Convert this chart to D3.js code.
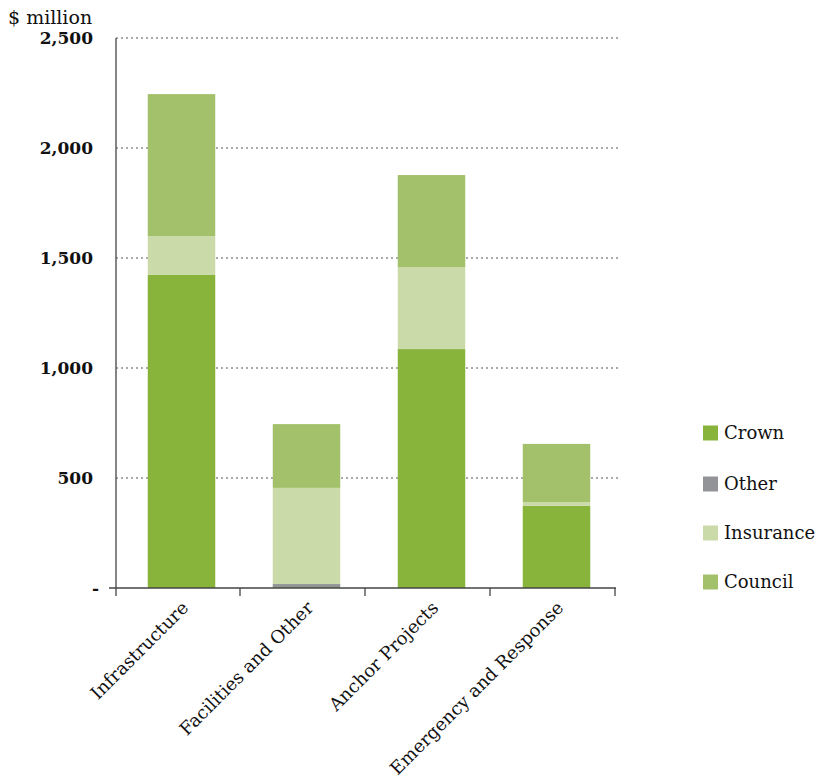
<!DOCTYPE html>
<html>
<head>
<meta charset="utf-8">
<script src="https://cdn.jsdelivr.net/npm/d3@7"></script>
<style>
  body { margin: 0; background: #fff; }
  svg text { font-family: "DejaVu Serif", "Liberation Serif", serif; fill: #111; }
</style>
</head>
<body>
<svg id="chart" width="819" height="780"></svg>
<script>
// Chart data
var categories = ["Infrastructure", "Facilities and Other", "Anchor Projects", "Emergency and Response"];
var seriesNames = ["Crown", "Other", "Insurance", "Council"];
var crown     = [1423, 4, 1086, 374];
var other     = [0, 14, 0, 0];
var insurance = [177, 437, 373, 17];
var council   = [645, 290, 418, 264];
var yTicks = [0, 500, 1000, 1500, 2000, 2500];
var colors = ["#88b43c", "#929497", "#cbdaa9", "#a3c16a"];

var svg = d3.select("#chart");

var x = d3.scaleBand()
  .domain(categories)
  .range([115, 615])
  .paddingInner(0.46)
  .paddingOuter(0.23);

var bandX = d3.scaleBand()
  .domain(categories)
  .range([115, 615]);

var y = d3.scaleLinear()
  .domain([0, 2500])
  .range([588, 38]);

var color = d3.scaleOrdinal().domain(seriesNames).range(colors);

// Table for the stack layout
var table = categories.map(function(c, i) {
  return { cat: c, Crown: crown[i], Other: other[i], Insurance: insurance[i], Council: council[i] };
});
var stacked = d3.stack().keys(seriesNames)(table);

// Gridlines
svg.append("g")
  .selectAll("line")
  .data(yTicks.filter(function(d) { return d > 0; }))
  .join("line")
    .attr("x1", 116)
    .attr("x2", 620)
    .attr("y1", function(d) { return y(d); })
    .attr("y2", function(d) { return y(d); })
    .attr("stroke", "#555")
    .attr("stroke-width", 1)
    .attr("stroke-dasharray", "2,3");

// Bars
svg.append("g")
  .selectAll("g")
  .data(stacked)
  .join("g")
    .attr("fill", function(d) { return color(d.key); })
  .selectAll("rect")
  .data(function(d) { return d; })
  .join("rect")
    .attr("x", function(d) { return x(d.data.cat) + 4; })
    .attr("width", x.bandwidth())
    .attr("y", function(d) { return y(d[1]); })
    .attr("height", function(d) { return y(d[0]) - y(d[1]); });

// Y axis
var yAxis = svg.append("g").attr("transform", "translate(116,0)");
yAxis.append("line")
  .attr("x1", 0).attr("x2", 0)
  .attr("y1", y(2500)).attr("y2", 596)
  .attr("stroke", "#444").attr("stroke-width", 1.3);
yAxis.selectAll("text")
  .data(yTicks)
  .join("text")
    .attr("x", function(d) { return d === 0 ? -17 : -23; })
    .attr("y", function(d) { return y(d); })
    .attr("dy", "0.35em")
    .attr("text-anchor", "end")
    .style("font-size", "17px")
    .style("font-weight", "bold")
    .text(function(d) { return d === 0 ? "-" : d3.format(",")(d); });

// X axis
var xAxis = svg.append("g");
xAxis.append("line")
  .attr("x1", 109).attr("x2", 616)
  .attr("y1", 588).attr("y2", 588)
  .attr("stroke", "#444").attr("stroke-width", 1.3);
xAxis.selectAll(".tick")
  .data(categories.slice(1).concat([null]))
  .join("line")
    .attr("class", "tick")
    .attr("x1", function(d) { return d ? bandX(d) : 615; })
    .attr("x2", function(d) { return d ? bandX(d) : 615; })
    .attr("y1", 588).attr("y2", 596)
    .attr("stroke", "#444").attr("stroke-width", 1.3);
xAxis.selectAll("text")
  .data(categories)
  .join("text")
    .attr("transform", function(d) {
      return "translate(" + (bandX(d) + bandX.bandwidth() / 2 + 12) + ",609) rotate(-45)";
    })
    .attr("text-anchor", "end")
    .style("font-size", "18px")
    .text(function(d) { return d; });

// Unit label
svg.append("text")
  .attr("x", 8)
  .attr("y", 24)
  .style("font-size", "19px")
  .text("$ million");

// Legend
var legend = svg.append("g");
var legendY = [433, 484, 533, 582];
var item = legend.selectAll("g")
  .data(seriesNames)
  .join("g")
    .attr("transform", function(d, i) { return "translate(703," + legendY[i] + ")"; });
item.append("rect")
  .attr("x", 0).attr("y", -7.5)
  .attr("width", 15).attr("height", 15)
  .attr("fill", function(d) { return color(d); });
item.append("text")
  .attr("x", 21)
  .attr("dy", "0.35em")
  .style("font-size", "18px")
  .text(function(d) { return d; });
</script>
</body>
</html>
